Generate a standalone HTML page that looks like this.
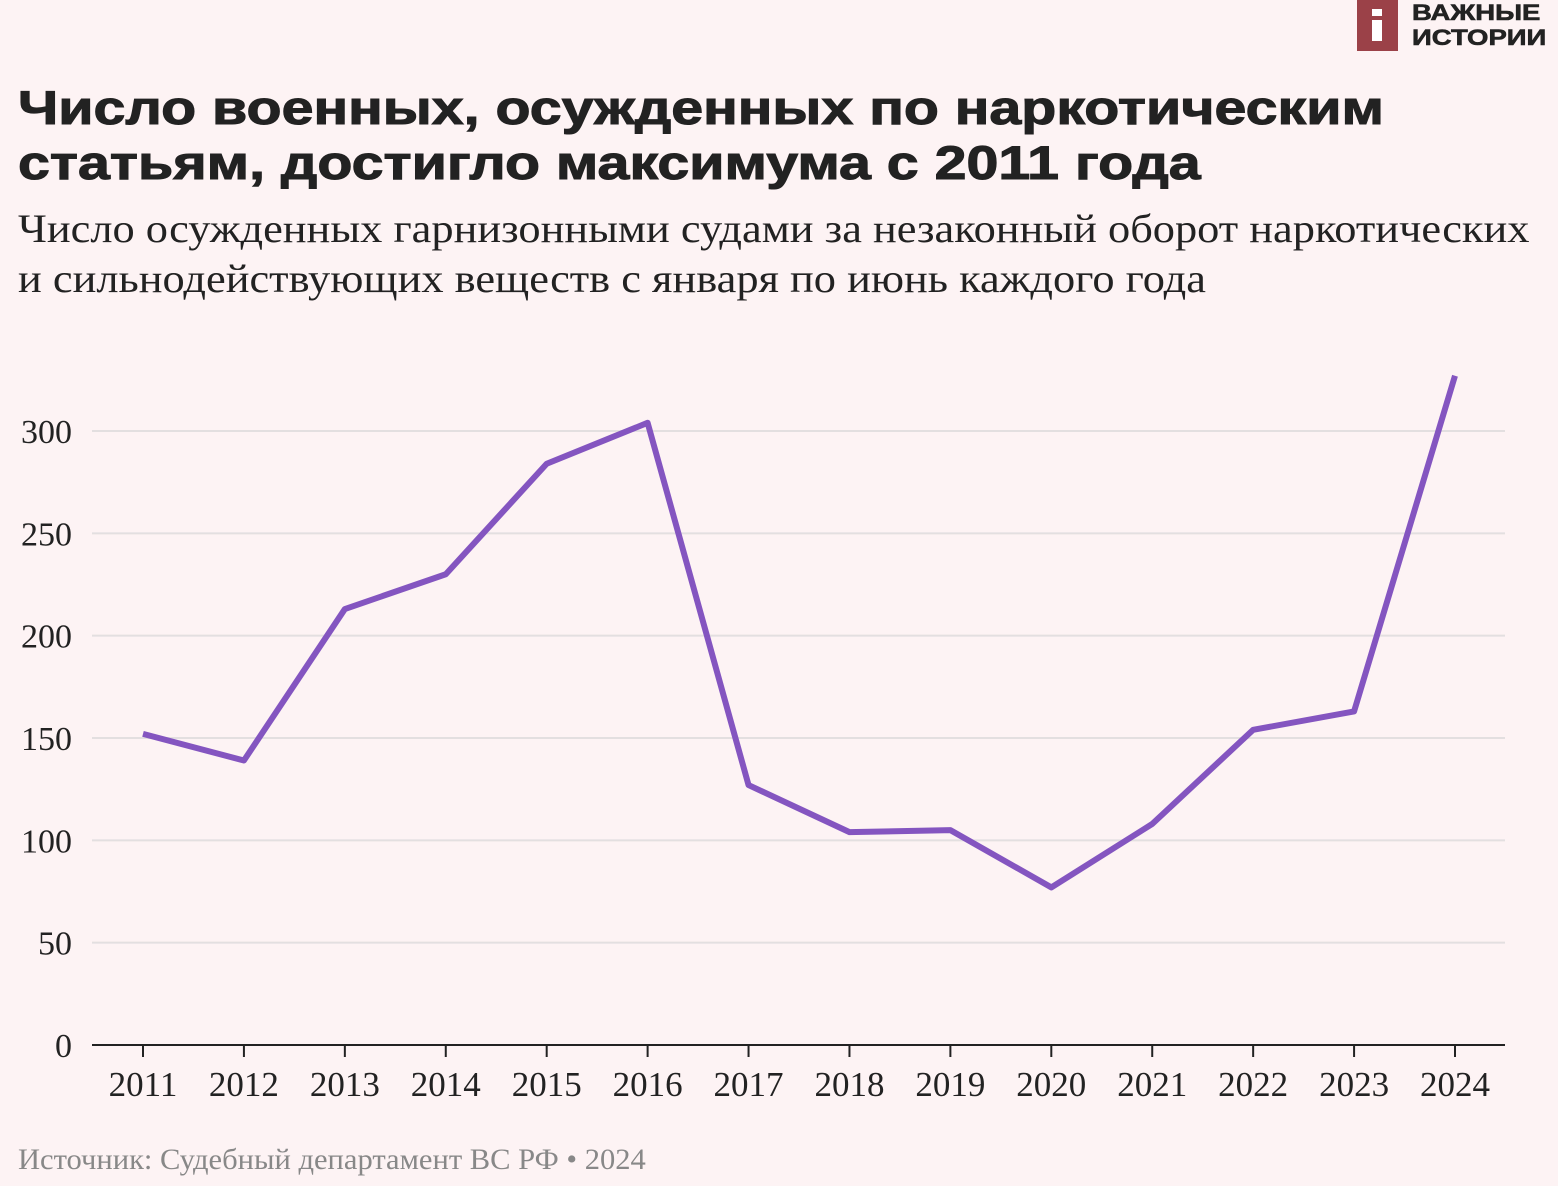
<!DOCTYPE html>
<html><head><meta charset="utf-8"><style>
body{margin:0;width:1558px;height:1186px;background:#fdf3f4;position:relative;overflow:hidden;font-family:"Liberation Serif",serif}
.t{position:absolute;margin:0;transform-origin:0 0;white-space:nowrap}
</style></head><body>
<div class="t" style="left:1357px;top:0;width:41px;height:51px;background:#9b4148"><div style="position:absolute;left:15px;top:9px;width:10px;height:7px;background:#fff"></div><div style="position:absolute;left:15px;top:20px;width:10px;height:21px;background:#fff"></div></div>
<div class="t" style="left:1412px;top:0px;font:900 22px/25px 'Liberation Sans',sans-serif;color:#222;transform:scaleX(1.25);-webkit-text-stroke:0.6px #222">ВАЖНЫЕ<br>ИСТОРИИ</div>
<h1 class="t" style="left:18px;top:80px;font:900 47px/55px 'Liberation Sans',sans-serif;color:#222;transform:scaleX(1.22);-webkit-text-stroke:1px #222">Число военных, осужденных по наркотическим<br>статьям, достигло максимума с 2011 года</h1>
<div class="t" style="left:18px;top:204px;font:40px/50px 'Liberation Serif',serif;color:#222;transform:scaleX(1.11)">Число осужденных гарнизонными судами за незаконный оборот наркотических<br>и сильнодействующих веществ с января по июнь каждого года</div>
<svg class="t" style="left:0;top:0" width="1558" height="1186" id="chart"></svg>
<div class="t" style="left:18px;top:1143px;font:30px 'Liberation Serif',serif;color:#888;transform:scaleX(1.018)">Источник: Судебный департамент ВС РФ • 2024</div>
<script>
const years=[2011,2012,2013,2014,2015,2016,2017,2018,2019,2020,2021,2022,2023,2024];
const values=[152,139,213,230,284,304,127,104,105,77,108,154,163,327];
const yTicks=[0,50,100,150,200,250,300];
const svg=document.getElementById('chart');
const NS='http://www.w3.org/2000/svg';
const x=i=>143+i*(1455-143)/(years.length-1);
const y=v=>1045-v*(1045-431)/300;
function mk(t,a){const e=document.createElementNS(NS,t);for(const k in a)e.setAttribute(k,a[k]);svg.appendChild(e);return e;}
yTicks.forEach(v=>{
 if(v>0){const g=mk('line',{x1:92,x2:1505,y1:y(v),y2:y(v),stroke:'#e3dfe0','stroke-width':2});
 
 }
 const t=mk('text',{x:72,y:y(v)+12,'text-anchor':'end','font-size':34,fill:'#222','font-family':'Liberation Serif,serif'});
 t.textContent=v;
 
 
});
const ax=mk('line',{x1:92,x2:1505,y1:1045,y2:1045,stroke:'#222','stroke-width':2});


years.forEach((yr,i)=>{
 const tk=mk('line',{x1:x(i),x2:x(i),y1:1045,y2:1057,stroke:'#222','stroke-width':2});
 
 
 const t=mk('text',{x:x(i),y:1096,'text-anchor':'middle','font-size':35,fill:'#222','font-family':'Liberation Serif,serif'});
 t.textContent=yr;
 
 
});
const p=mk('polyline',{points:values.map((v,i)=>x(i)+','+y(v)).join(' '),fill:'none',stroke:'#8455c0','stroke-width':6,'stroke-linejoin':'round'});


</script>
</body></html>
